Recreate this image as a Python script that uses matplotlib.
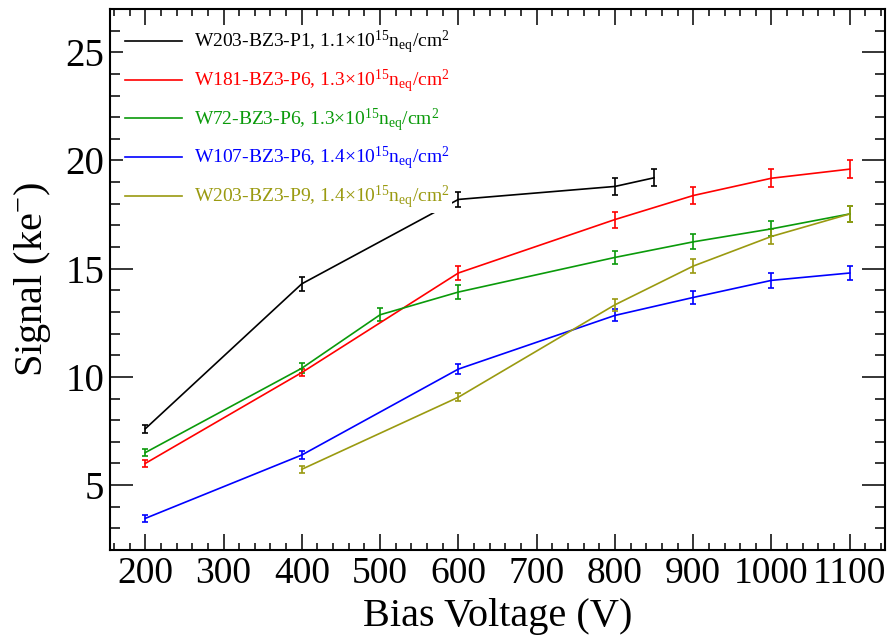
"""
Signal vs bias voltage for irradiated sensors (five samples).
"""

import matplotlib
matplotlib.use("Agg")
import matplotlib.pyplot as plt
from matplotlib.lines import Line2D
from matplotlib.ticker import MultipleLocator

plt.rcParams["font.family"] = ["Liberation Serif", "DejaVu Serif"]
plt.rcParams["mathtext.fontset"] = "custom"
plt.rcParams["mathtext.rm"] = "Liberation Serif"
plt.rcParams["mathtext.it"] = "Liberation Serif:italic"

# W203-BZ3-P1
v_w203_p1 = [200, 400, 600, 800, 850]
s_w203_p1 = [7.6, 14.3, 18.2, 18.8, 19.2]
e_w203_p1 = [0.18, 0.32, 0.36, 0.38, 0.40]

# W181-BZ3-P6
v_w181_p6 = [200, 400, 600, 800, 900, 1000, 1100]
s_w181_p6 = [6.0, 10.2, 14.8, 17.27, 18.38, 19.18, 19.6]
e_w181_p6 = [0.17, 0.17, 0.34, 0.37, 0.40, 0.41, 0.42]

# W72-BZ3-P6
v_w72_p6 = [200, 400, 500, 600, 800, 900, 1000, 1100]
s_w72_p6 = [6.5, 10.4, 12.87, 13.92, 15.52, 16.24, 16.84, 17.53]
e_w72_p6 = [0.17, 0.23, 0.29, 0.31, 0.32, 0.35, 0.35, 0.36]

# W107-BZ3-P6
v_w107_p6 = [200, 400, 600, 800, 900, 1000, 1100]
s_w107_p6 = [3.46, 6.39, 10.36, 12.84, 13.67, 14.46, 14.8]
e_w107_p6 = [0.17, 0.18, 0.23, 0.28, 0.30, 0.33, 0.34]

# W203-BZ3-P9
v_w203_p9 = [400, 600, 800, 900, 1000, 1100]
s_w203_p9 = [5.73, 9.06, 13.33, 15.12, 16.49, 17.53]
e_w203_p9 = [0.15, 0.19, 0.27, 0.32, 0.35, 0.38]

labels = [
    r"W203-BZ3-P1, 1.1$\times$10$^{15}$n$_{\rm eq}$/cm$^{2}$",
    r"W181-BZ3-P6, 1.3$\times$10$^{15}$n$_{\rm eq}$/cm$^{2}$",
    r"W72-BZ3-P6, 1.3$\times$10$^{15}$n$_{\rm eq}$/cm$^{2}$",
    r"W107-BZ3-P6, 1.4$\times$10$^{15}$n$_{\rm eq}$/cm$^{2}$",
    r"W203-BZ3-P9, 1.4$\times$10$^{15}$n$_{\rm eq}$/cm$^{2}$",
]
colors = ["black", "#ff0000", "#0a9a0a", "#0000ff", "#9a9a10"]

series = [
    (v_w203_p1, s_w203_p1, e_w203_p1),
    (v_w181_p6, s_w181_p6, e_w181_p6),
    (v_w72_p6, s_w72_p6, e_w72_p6),
    (v_w107_p6, s_w107_p6, e_w107_p6),
    (v_w203_p9, s_w203_p9, e_w203_p9),
]

fig = plt.figure(figsize=(8.93, 6.4), dpi=100)
ax = fig.add_axes([110 / 893, 1 - 550 / 640, 775 / 893, 541 / 640])

handles = []
for (v, s, e), lbl, c in zip(series, labels, colors):
    ax.errorbar(v, s, yerr=e, color=c, lw=1.2, elinewidth=1.2,
                capsize=2.2, capthick=1.2)
    handles.append(Line2D([], [], color=c, lw=1.2, label=lbl))

ax.set_xlim(155, 1145)
ax.set_ylim(2, 27)
ax.xaxis.set_major_locator(MultipleLocator(100))
ax.xaxis.set_minor_locator(MultipleLocator(20))
ax.yaxis.set_major_locator(MultipleLocator(5))
ax.yaxis.set_minor_locator(MultipleLocator(1))
ax.set_xticks(range(200, 1101, 100))

ax.tick_params(axis="x", which="major", direction="in", top=True,
               length=11.5, width=1.1, labelsize=27, pad=5)
ax.tick_params(axis="x", which="minor", direction="in", top=True,
               length=5, width=1.1)
ax.tick_params(axis="y", which="major", direction="in", right=True,
               length=16.5, width=1.1, labelsize=28, pad=4)
ax.tick_params(axis="y", which="minor", direction="in", right=True,
               length=7.2, width=1.1)
for sp in ax.spines.values():
    sp.set_linewidth(1.5)

ax.set_xlabel("Bias Voltage (V)", fontsize=29, labelpad=5)
ax.set_ylabel(r"Signal (ke$^{-}$)", fontsize=29, labelpad=9)

# white legend box hides the line behind it, as in the original ROOT canvas
leg = ax.legend(handles=handles, loc="upper left",
                bbox_to_anchor=(0.017, 0.9665),
                fontsize=14, frameon=True, fancybox=False,
                handlelength=2.9, handletextpad=0.65, labelspacing=0.6,
                borderpad=0.1, borderaxespad=0)
leg.get_frame().set_edgecolor("none")
leg.get_frame().set_facecolor("white")
leg.get_frame().set_alpha(1.0)
for txt, c in zip(leg.get_texts(), colors):
    txt.set_color(c)

fig.savefig("out.png", dpi=100)
